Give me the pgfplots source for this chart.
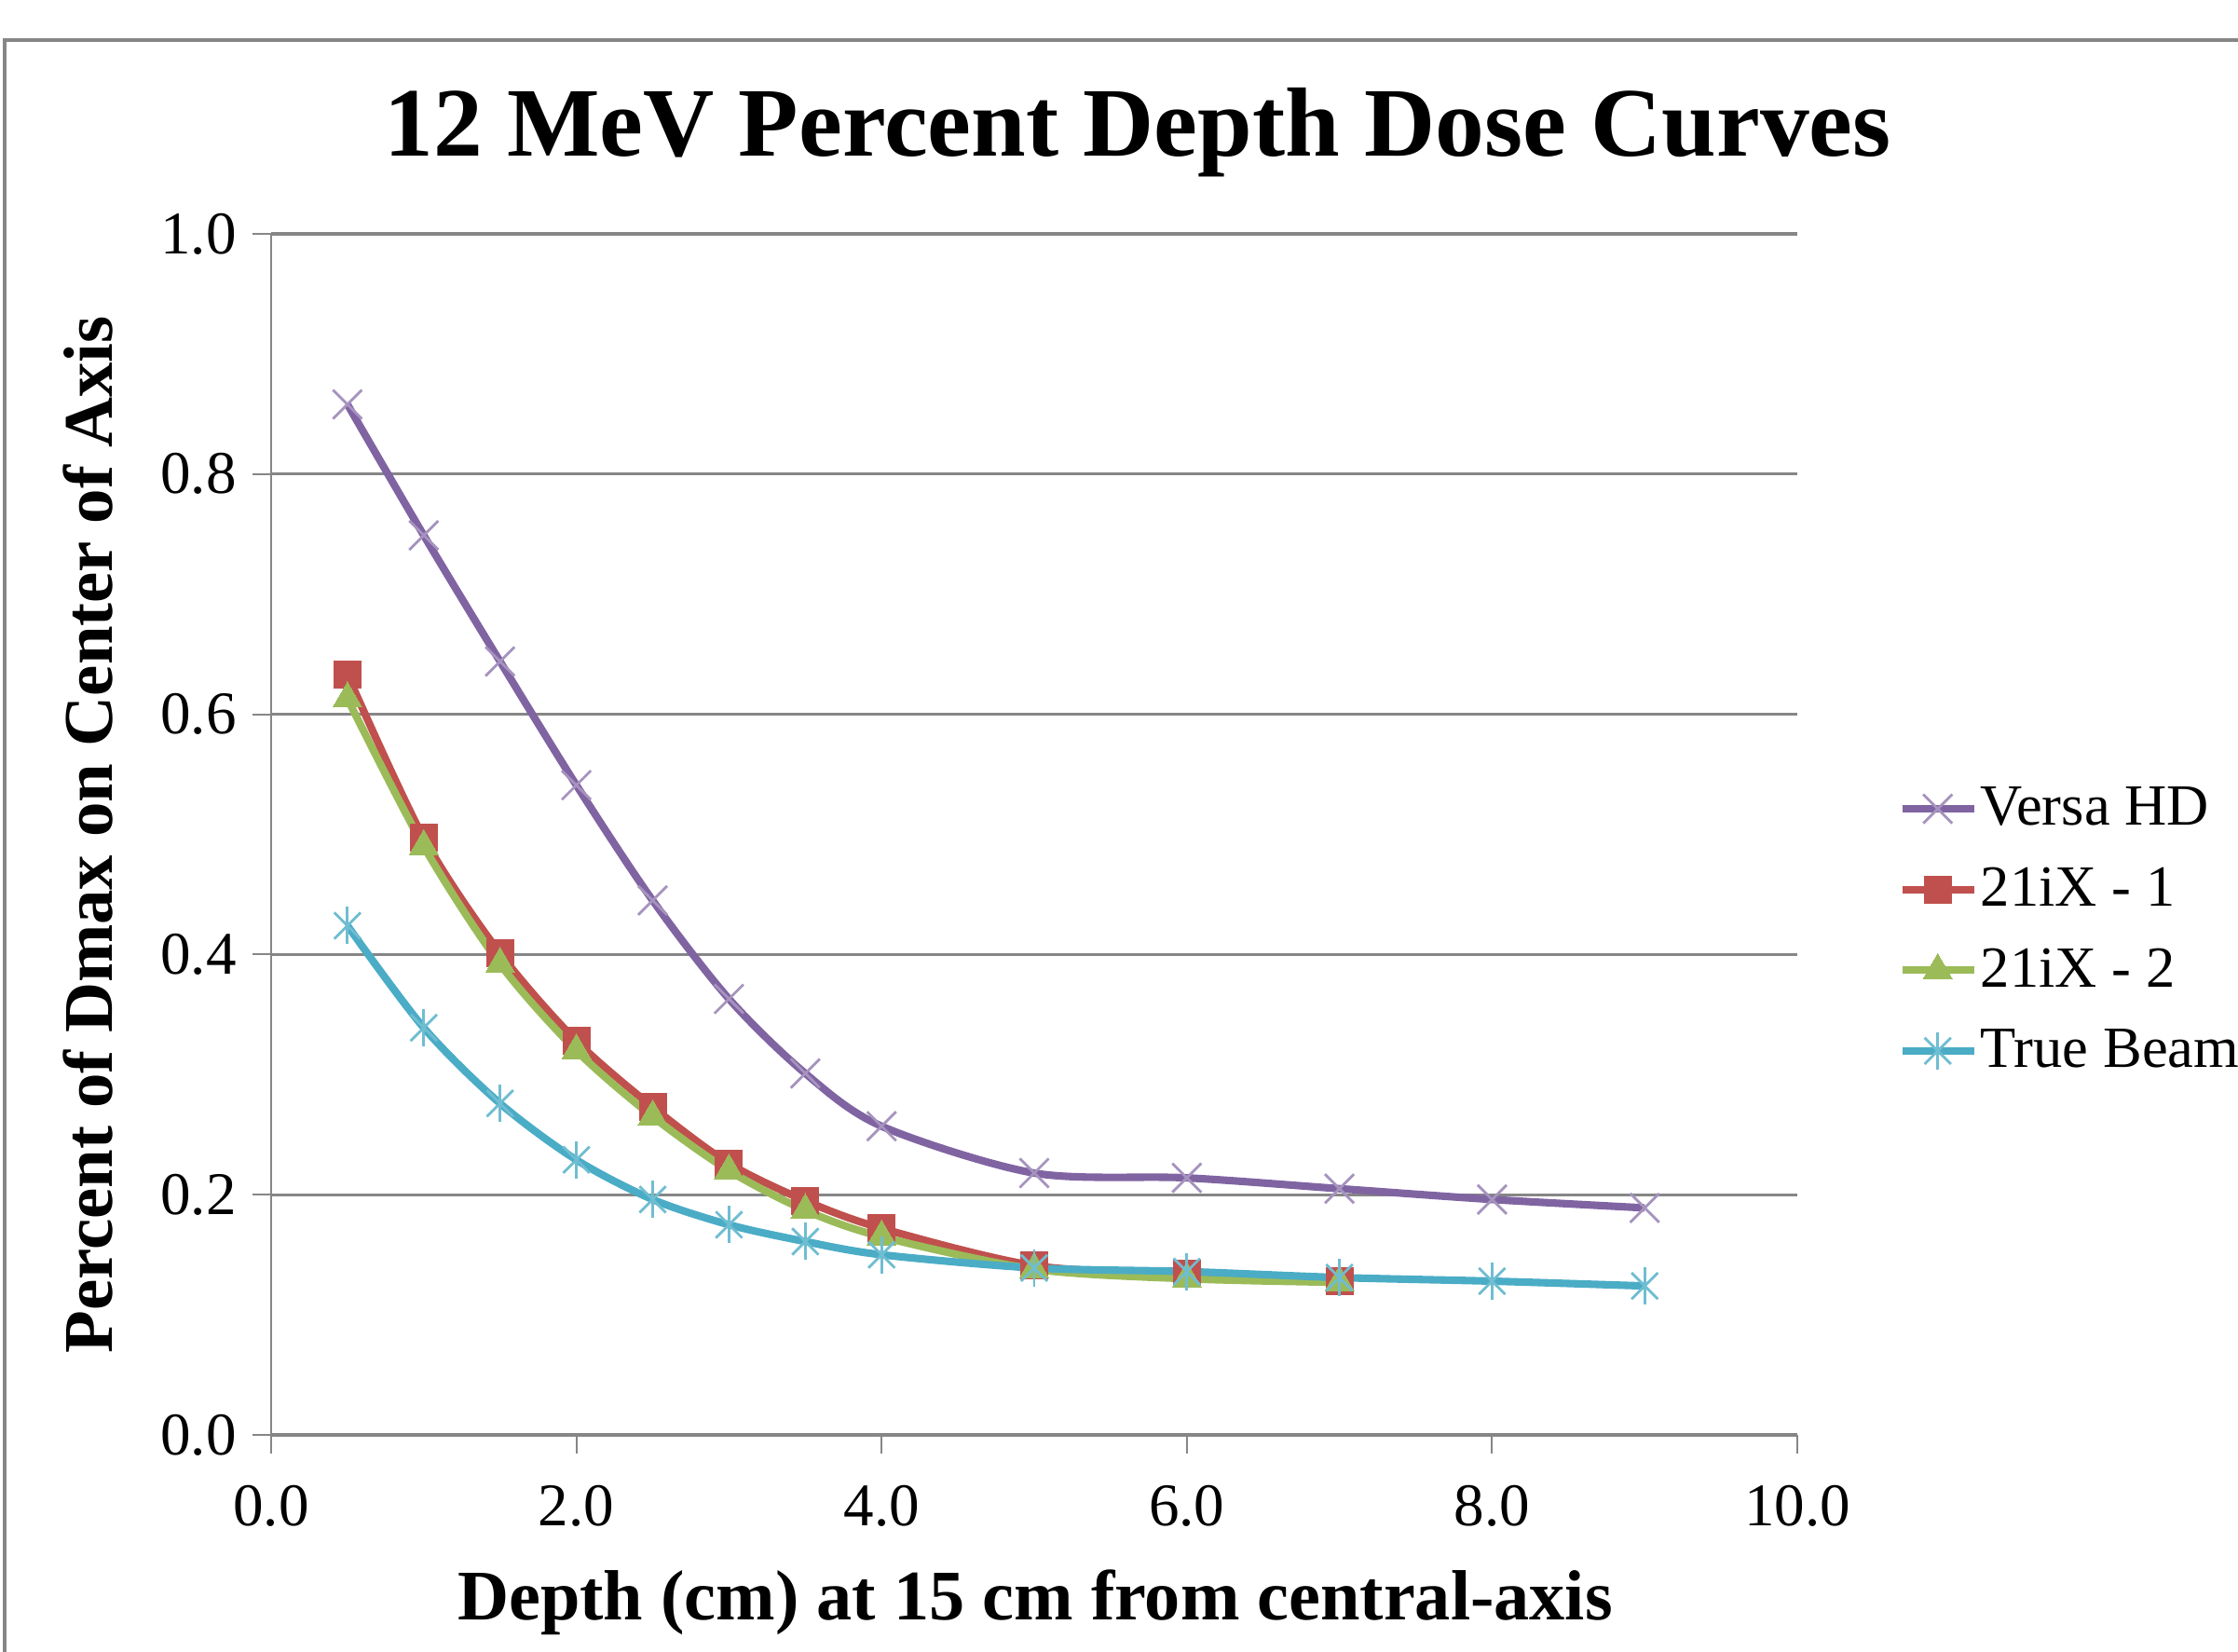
\documentclass[border=0pt]{standalone}
\usepackage{fontspec}
\setmainfont{Liberation Serif}
\usepackage{pgfplots}
\pgfplotsset{compat=1.18}

\definecolor{versa}{HTML}{8064A2}
\definecolor{ixone}{HTML}{C0504D}
\definecolor{ixtwo}{HTML}{9BBB59}
\definecolor{truebeam}{HTML}{4BACC6}
\definecolor{gridgray}{HTML}{868686}

% Excel "star" marker: an x with a vertical bar
\pgfdeclareplotmark{xstar}{%
  \pgfuseplotmark{x}%
  \pgfpathmoveto{\pgfqpoint{0pt}{-\pgfplotmarksize}}%
  \pgfpathlineto{\pgfqpoint{0pt}{\pgfplotmarksize}}%
  \pgfusepathqstroke}

\begin{document}
\begin{tikzpicture}
\useasboundingbox (-2.91,-2.33) rectangle (21.11,15.40);
% chart frame (cut off at right and bottom)
\draw[gridgray, line width=1.2pt] (-2.86,-2.40) -- (-2.86,14.97) -- (21.20,14.97);

\begin{axis}[
  scale only axis,
  width=16.38cm, height=12.89cm,
  xmin=0, xmax=10, ymin=0, ymax=1,
  xtick={0,2,...,10}, ytick={0,0.2,...,1.0},
  axis x line=bottom, axis y line=left,
  axis line style={gridgray, line width=0.6pt, -},
  x axis line style={line width=1.4pt},
  tick style={gridgray, line width=0.6pt},
  tick align=outside, major tick length=0.2cm,
  ymajorgrids, grid style={gridgray, line width=0.9pt},
  /pgf/number format/.cd, fixed, fixed zerofill, precision=1, assume math mode=true,
  /pgfplots/.cd,
  ticklabel style={font=\fontsize{18.5}{20}\selectfont},
  xticklabel style={yshift=-0.22cm},
  yticklabel style={xshift=-0.05cm},
  every axis plot/.append style={smooth, tension=0.5, line width=2.3pt},
  legend style={draw=none, fill=none, at={(1.0659,0.4205)}, anchor=west,
    font=\fontsize{17.8}{19}\selectfont, row sep=0.26cm,
    inner xsep=0pt, /tikz/every odd column/.append style={column sep=-0.04cm}},
  legend cell align=left,
  legend image code/.code={%
    \draw[mark repeat=2, mark phase=2] plot coordinates {(0cm,0cm) (0.38cm,0cm) (0.77cm,0cm)};},
]
% Versa HD
\addplot[versa, mark=x, mark size=0.22cm, mark options={versa!70, line width=0.8pt, solid}]
  coordinates {(0.5,0.858) (1,0.749) (1.5,0.644) (2,0.541) (2.5,0.445) (3,0.363) (3.5,0.301)
               (4,0.257) (5,0.218) (6,0.214) (7,0.205) (8,0.196) (9,0.189)};
\addlegendentry{Versa HD}
% 21iX - 1
\addplot[ixone, mark=square*, mark size=0.145cm, mark options={ixone, line width=0pt, solid}]
  coordinates {(0.5,0.633) (1,0.497) (1.5,0.401) (2,0.328) (2.5,0.273) (3,0.226) (3.5,0.195)
               (4,0.172) (5,0.141) (6,0.134) (7,0.128)};
\addlegendentry{21iX - 1}
% 21iX - 2
\addplot[ixtwo, mark=triangle*, mark size=0.18cm, mark options={ixtwo, line width=0pt, solid}]
  coordinates {(0.5,0.613) (1,0.490) (1.5,0.392) (2,0.320) (2.5,0.265) (3,0.220) (3.5,0.187)
               (4,0.165) (5,0.138) (6,0.130) (7,0.127)};
\addlegendentry{21iX - 2}
% True Beam
\addplot[truebeam, mark=xstar, mark size=0.2cm, mark options={truebeam!80, line width=0.8pt, solid}]
  coordinates {(0.5,0.424) (1,0.339) (1.5,0.276) (2,0.229) (2.5,0.196) (3,0.175) (3.5,0.161)
               (4,0.150) (5,0.139) (6,0.136) (7,0.131) (8,0.128) (9,0.124)};
\addlegendentry{True Beam}
\end{axis}

\node[anchor=base, font=\bfseries\fontsize{30}{32}\selectfont] at (9.30,13.72)
  {12 MeV Percent Depth Dose Curves};
\node[anchor=base, font=\bfseries\fontsize{21.7}{24}\selectfont] at (8.20,-1.99)
  {Depth (cm) at 15 cm from central-axis};
\node[rotate=90, anchor=center, font=\bfseries\fontsize{21.3}{24}\selectfont] at (-1.96,6.44)
  {Percent of Dmax on Center of Axis};
\end{tikzpicture}
\end{document}
